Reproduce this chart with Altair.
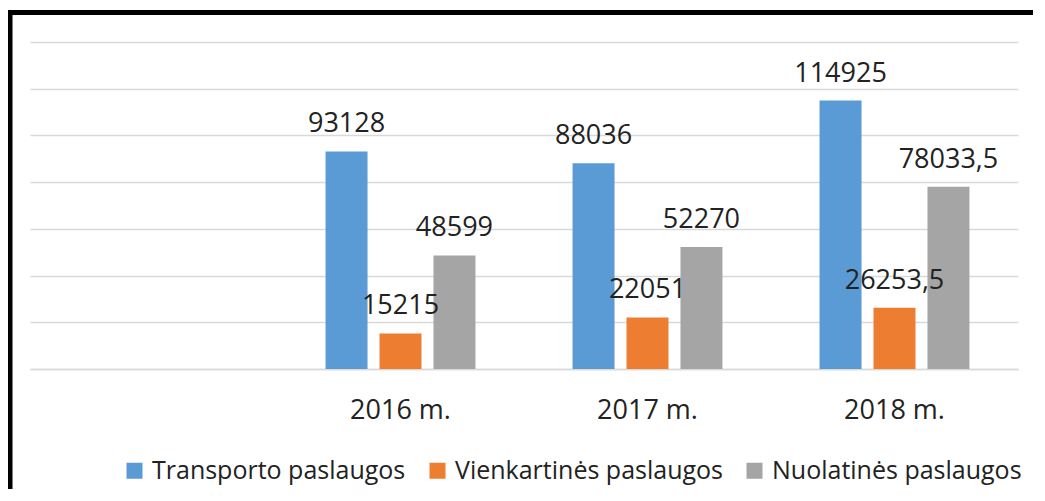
import altair as alt
import pandas as pd

years = ["2016 m.", "2017 m.", "2018 m."]
x_domain = [""] + years
series = ["Transporto paslaugos", "Vienkartinės paslaugos", "Nuolatinės paslaugos"]
transport = [93128, 88036, 114925]
vienkartines = [15215, 22051, 26253.5]
nuolatines = [48599, 52270, 78033.5]
colors = ["#5B9BD5", "#ED7D31", "#A5A5A5"]
grid_values = [0, 20000, 40000, 60000, 80000, 100000, 120000, 140000]

rows = []
for s, vals in zip(series, [transport, vienkartines, nuolatines]):
    for yr, v in zip(years, vals):
        rows.append({"year": yr, "series": s, "value": v,
                     "label": f"{v:g}".replace(".", ",")})
df = pd.DataFrame(rows)

W, H = 988, 327
FONT = "Open Sans"
TXT = "#222222"

x = alt.X("year:N",
          scale=alt.Scale(domain=x_domain, paddingInner=0, paddingOuter=0),
          axis=alt.Axis(title=None, labelAngle=0, ticks=False, domainColor="#D9D9D9",
                        domainWidth=1.3, labelFontSize=27, labelFont=FONT, labelColor=TXT,
                        labelBaseline="middle", labelPadding=41, grid=False))
xo = alt.XOffset("series:N", sort=series,
                 scale=alt.Scale(domain=series, paddingInner=0.222, paddingOuter=0.9))
y = alt.Y("value:Q", scale=alt.Scale(domain=[0, 140000], nice=False),
          axis=alt.Axis(title=None, labels=False, ticks=False, domain=False, grid=True,
                        gridColor="#D9D9D9", gridWidth=1.3, values=grid_values))

base = alt.Chart(df)
bars = base.mark_bar().encode(
    x=x, xOffset=xo, y=y,
    color=alt.Color("series:N", sort=series,
                    scale=alt.Scale(domain=series, range=colors),
                    legend=alt.Legend(title=None, orient="none", legendX=92, legendY=416,
                                      direction="horizontal", columns=3, padding=0,
                                      symbolType="square", symbolSize=256,
                                      symbolStrokeWidth=0, labelFontSize=25,
                                      labelFont=FONT, labelColor=TXT, labelOffset=5,
                                      labelLimit=0, columnPadding=19))
)
labels = base.mark_text(dy=-19, baseline="alphabetic", fontSize=27, font=FONT,
                        color=TXT).encode(x=x, xOffset=xo, y=y, text="label:N")

frame = pd.DataFrame({"k": [0]})
left_border = alt.Chart(frame).mark_rule(color="black", strokeWidth=5).encode(
    x=alt.value(-20), y=alt.value(-32), y2=alt.value(460))
top_border = alt.Chart(frame).mark_rule(color="black", strokeWidth=5).encode(
    x=alt.value(-22.5), x2=alt.value(1003), y=alt.value(-29.5))

chart = alt.layer(bars, labels, left_border, top_border).properties(
    width=W, height=H,
    background="white",
    autosize=alt.AutoSizeParams(type="none"),
    padding={"left": 22, "top": 34, "right": 15, "bottom": 120},
).configure_view(strokeWidth=0, stroke=None)

chart.save("out.html", embed_options={"renderer": "svg", "actions": False})
